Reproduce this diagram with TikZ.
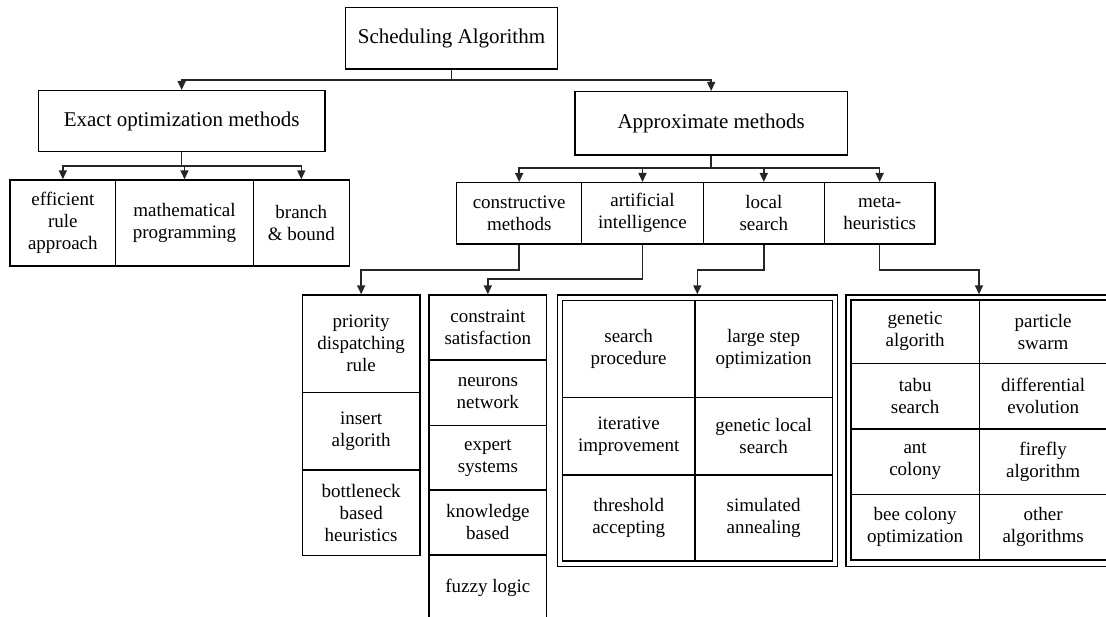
\documentclass[tikz,border=0pt]{standalone}
\usepackage{fontspec}
\setmainfont{Liberation Serif}
\usetikzlibrary{arrows.meta}
\begin{document}
\begin{tikzpicture}[x=1pt,y=-1pt,
  box/.style={draw=black, line width=1.4pt, inner sep=0pt, align=center},
  hd/.style={box, font=\fontsize{21}{24}\selectfont},
  lf/.style={box, font=\fontsize{19}{22}\selectfont},
  grp/.style={draw=black, line width=1.4pt, inner sep=0pt},
  link/.style={draw=black!85, line width=1.6pt},
  arr/.style={link, -{Triangle[length=9pt,width=8pt]}}
]
\path[use as bounding box] (0,0) rectangle (1106,617);
\clip (0,0) rectangle (1106,617);

% top levels
\node[hd, minimum width=211.6pt, minimum height=61.7pt] (root)  at (451.5,38.15)  {Scheduling Algorithm};
\node[hd, minimum width=286.7pt, minimum height=61pt]   (exact) at (181.65,121.2) {Exact optimization methods};
\node[hd, minimum width=272.3pt, minimum height=63.3pt] (appr)  at (711.15,123.35) {Approximate methods};

% exact methods
\node[lf, minimum width=105.7pt, minimum height=86pt] (e1) at (62.85,223) {efficient\\rule\\approach};
\node[lf, minimum width=137.6pt, minimum height=86pt] (e2) at (184.5,223) {mathematical\\programming};
\node[lf, minimum width=96pt,    minimum height=86pt] (e3) at (301.3,223) {branch\\\& bound};

% approximate methods
\node[lf, minimum width=125pt,   minimum height=61.3pt] (cons) at (519.2,213.35)  {constructive\\methods};
\node[lf, minimum width=121.6pt, minimum height=61.3pt] (ai)   at (642.5,213.35)  {artificial\\intelligence};
\node[lf, minimum width=121pt,   minimum height=61.3pt] (ls)   at (763.8,213.35)  {local\\search};
\node[lf, minimum width=110.7pt, minimum height=61.3pt] (meta) at (879.65,213.35) {meta-\\heuristics};

% constructive methods column
\node[lf, minimum width=117.7pt, minimum height=97.3pt] (p1) at (361.15,343.65) {priority\\dispatching\\rule};
\node[lf, minimum width=117.7pt, minimum height=77.7pt] (p2) at (361.15,431.15) {insert\\algorith};
\node[lf, minimum width=117.7pt, minimum height=85.7pt] (p3) at (361.15,512.85) {bottleneck\\based\\heuristics};

% artificial intelligence column
\node[lf, minimum width=117.7pt, minimum height=65pt]   (q1) at (487.85,327.5)  {constraint\\satisfaction};
\node[lf, minimum width=117.7pt, minimum height=65.7pt] (q2) at (487.85,392.85) {neurons\\network};
\node[lf, minimum width=117.7pt, minimum height=64.3pt] (q3) at (487.85,457.85) {expert\\systems};
\node[lf, minimum width=117.7pt, minimum height=65pt]   (q4) at (487.85,522.5)  {knowledge\\based};
\node[lf, minimum width=117.7pt, minimum height=65pt]   (q5) at (487.85,587.5)  {fuzzy logic};

% local search group
\node[grp, minimum width=280pt, minimum height=271.7pt] (lsg) at (697.3,430.85) {};
\node[lf, minimum width=132.7pt, minimum height=96.6pt] (l1) at (628.65,349)    {search\\procedure};
\node[lf, minimum width=137.3pt, minimum height=96.6pt] (l2) at (763.65,349)    {large step\\optimization};
\node[lf, minimum width=132.7pt, minimum height=77.7pt] (l3) at (628.65,436.15) {iterative\\improvement};
\node[lf, minimum width=137.3pt, minimum height=77.7pt] (l4) at (763.65,436.15) {genetic local\\search};
\node[lf, minimum width=132.7pt, minimum height=86pt]   (l5) at (628.65,518)    {threshold\\accepting};
\node[lf, minimum width=137.3pt, minimum height=86pt]   (l6) at (763.65,518)    {simulated\\annealing};

% metaheuristics group
\node[grp, minimum width=266pt, minimum height=271.7pt] (mhg) at (979,430.85) {};
\node[lf, minimum width=128.3pt, minimum height=63.3pt] (m1) at (915.15,331.65)  {genetic\\algorith};
\node[lf, minimum width=127.7pt, minimum height=63.3pt] (m2) at (1043.15,331.65) {particle\\swarm};
\node[lf, minimum width=128.3pt, minimum height=65.7pt] (m3) at (915.15,396.15)  {tabu\\search};
\node[lf, minimum width=127.7pt, minimum height=65.7pt] (m4) at (1043.15,396.15) {differential\\evolution};
\node[lf, minimum width=128.3pt, minimum height=65.3pt] (m5) at (915.15,461.65)  {ant\\colony};
\node[lf, minimum width=127.7pt, minimum height=65.3pt] (m6) at (1043.15,461.65) {firefly\\algorithm};
\node[lf, minimum width=128.3pt, minimum height=65.7pt] (m7) at (915.15,527.15)  {bee colony\\optimization};
\node[lf, minimum width=127.7pt, minimum height=65.7pt] (m8) at (1043.15,527.15) {other\\algorithms};

% bus levels
\coordinate (busA) at (0,80);
\coordinate (busB) at (0,166);
\coordinate (busC) at (0,168.3);
\coordinate (busD) at (0,270);
\coordinate (busE) at (0,279.3);

% connectors
\draw[arr] (root.south) -- (root.south |- busA) -| (exact.north);
\draw[arr] (root.south) -- (root.south |- busA) -| (appr.north);

\draw[arr] (exact.south) -- (exact.south |- busB) -| (e1.north);
\draw[arr] (exact.south) -- (exact.south |- busB) -| (e2.north);
\draw[arr] (exact.south) -- (exact.south |- busB) -| (e3.north);

\draw[arr] (appr.south) -- (appr.south |- busC) -| (cons.north);
\draw[arr] (appr.south) -- (appr.south |- busC) -| (ai.north);
\draw[arr] (appr.south) -- (appr.south |- busC) -| (ls.north);
\draw[arr] (appr.south) -- (appr.south |- busC) -| (meta.north);

\draw[arr] (cons.south) -- (cons.south |- busD) -| (p1.north);
\draw[arr] (ai.south)   -- (ai.south |- busE)   -| (q1.north);
\draw[arr] (ls.south)   -- (ls.south |- busD)   -| (lsg.north);
\draw[arr] (meta.south) -- (meta.south |- busD) -| (mhg.north);
\end{tikzpicture}
\end{document}
